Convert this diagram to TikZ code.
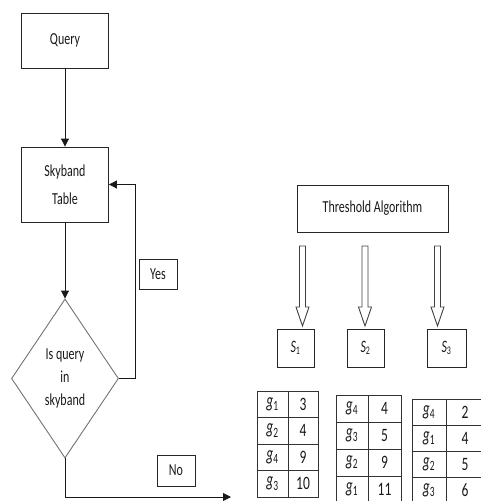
\documentclass[tikz,border=0pt]{standalone}
\usepackage{fontspec}
\setmainfont{Carlito}
\usetikzlibrary{shapes.geometric,arrows.meta}

\tikzset{
  box/.style={draw=black!85,line width=0.9pt,inner sep=0pt,align=center,text=black!90,font=\fontsize{12}{28}\selectfont},
  decision/.style={diamond,draw=black!55,line width=0.9pt,inner sep=0pt,aspect=0.67,align=center,text=black!90,font=\fontsize{12}{23}\selectfont,minimum width=107,minimum height=159},
  flow/.style={draw=black!90,line width=0.9pt,-{Triangle[length=8pt,width=8pt]}},
  cell/.style={draw=black!80,line width=0.9pt,inner sep=0pt,text=black!90,font=\fontsize{13.5}{15}\selectfont},
  hollow/.pic={\draw[black!75,line width=0.9pt] (-3,0) -- (-3,61) -- (-6.5,61) -- (0,80) -- (6.5,61) -- (3,61) -- (3,0) -- cycle;}
}
\newcommand{\tall}[1]{\scalebox{1}[1.4]{#1}}
\newcommand{\gsub}[1]{\scalebox{1}[1.5]{{\itshape g}\textsubscript{#1}}}
\newcommand{\ssub}[1]{\scalebox{1}[1.45]{{\itshape S}\textsubscript{#1}}}

\begin{document}
\begin{tikzpicture}[x=1pt,y=-1pt]
\useasboundingbox (0,0) rectangle (480,501);

% left flow chart
\node[box,minimum width=87,minimum height=55] (query) at (65,40.5) {\tall{Query}};
\node[box,minimum width=87,minimum height=75] (skyband) at (65,184.5) {\tall{Skyband}\\\tall{Table}};
\node[decision] (dec) at (65,378.5) {\tall{Is query}\\\tall{in}\\\tall{skyband}};
\node[box,minimum width=38,minimum height=30] (yes) at (158,274) {\tall{Yes}};
\node[box,minimum width=38,minimum height=31] (no) at (176,470.5) {\tall{No}};
\coordinate (noend) at (231,497);

\draw[flow] (query) -- (skyband);
\draw[flow] (skyband) -- (dec);
\draw[flow] (dec.east) -- ++(16,0) |- (skyband.east);
\draw[flow] (dec.south) |- (noend);

% right part
\node[box,minimum width=151,minimum height=47] (ta) at (372.5,208.5) {\tall{Threshold Algorithm}};
\node[box,minimum width=37,minimum height=38] (s1) at (295.5,348) {\ssub{1}};
\node[box,minimum width=37,minimum height=38] (s2) at (365.5,348) {\ssub{2}};
\node[box,minimum width=39,minimum height=38] (s3) at (446.5,348) {\ssub{3}};

\pic at (302.5,246) {hollow};
\pic at (365,246) {hollow};
\pic at (437.5,246) {hollow};

% sorted lists
\foreach [count=\r] \g/\v in {1/3,2/4,4/9,3/10}{
  \node[cell,minimum width=31,minimum height=26.5] (la\r) at (272.5,{391+26.5*\r-13.25}) {\gsub{\g}};
  \node[cell,minimum width=30,minimum height=26.5] (va\r) at (303,{391+26.5*\r-13.25}) {\tall{\v}};
}
\foreach [count=\r] \g/\v in {4/4,3/5,2/9,1/11}{
  \node[cell,minimum width=32,minimum height=27] (lb\r) at (352,{395+27*\r-13.5}) {\gsub{\g}};
  \node[cell,minimum width=33,minimum height=27] (vb\r) at (384.5,{395+27*\r-13.5}) {\tall{\v}};
}
\foreach [count=\r] \g/\v in {4/2,1/4,2/5,3/6}{
  \node[cell,minimum width=34,minimum height=26] (lc\r) at (429,{399+26*\r-13}) {\gsub{\g}};
  \node[cell,minimum width=38,minimum height=26] (vc\r) at (465,{399+26*\r-13}) {\tall{\v}};
}

\end{tikzpicture}
\end{document}
